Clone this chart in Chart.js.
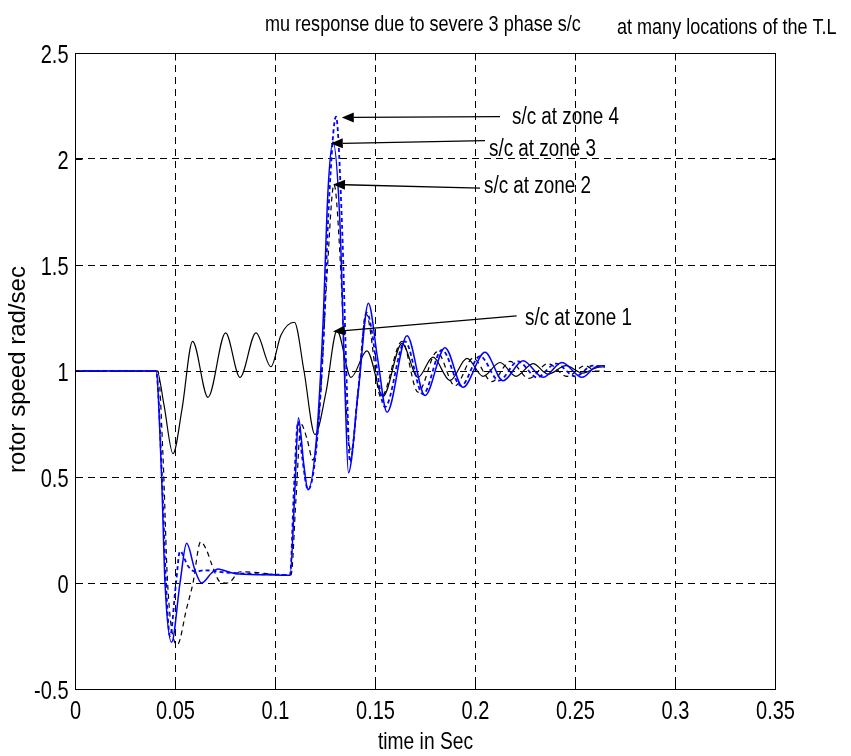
<!DOCTYPE html>
<html><head><meta charset="utf-8">
<script src="https://cdn.jsdelivr.net/npm/chart.js@4.4.1/dist/chart.umd.min.js"></script>
<style>html,body{margin:0;padding:0;background:#fff;}canvas{display:block;}</style>
</head><body>
<canvas id="c" width="851" height="756"></canvas>
<script>
const xTickLabels = ['0','0.05','0.1','0.15','0.2','0.25','0.3','0.35'];
const yTickLabels = ['-0.5','0','0.5','1','1.5','2','2.5'];
const titleLeft = 'mu response due to severe 3 phase s/c';
const titleRight = 'at many locations of the T.L';
const xTitle = 'time in Sec';
const yTitle = 'rotor speed rad/sec';

// zone 1 : black solid
const zone1T = [0, 0.041, 0.0445, 0.049, 0.0535, 0.0588, 0.0665, 0.0753, 0.0825, 0.0905, 0.098, 0.103, 0.1097, 0.1145, 0.12, 0.1255, 0.131, 0.138, 0.146, 0.154, 0.1635, 0.1715, 0.179, 0.1875, 0.196, 0.204, 0.2125, 0.2205, 0.229, 0.2365, 0.2455, 0.254, 0.2605, 0.265];
const zone1V = [1, 1, 0.84, 0.61, 0.82, 1.14, 0.876, 1.18, 0.97, 1.18, 1.02, 1.17, 1.23, 1.0, 0.70, 0.9, 1.19, 0.97, 1.095, 0.88, 1.13, 0.97, 1.065, 0.955, 1.06, 0.975, 1.04, 0.975, 1.035, 0.985, 1.025, 0.99, 1.015, 1.02];
// zone 2 : black dashed
const zone2T = [0, 0.0415, 0.0440, 0.0463, 0.0512, 0.0558, 0.059, 0.0628, 0.0658, 0.0683, 0.0725, 0.0765, 0.0825, 0.09, 0.1, 0.108, 0.1105, 0.113, 0.116, 0.119, 0.1225, 0.126, 0.1295, 0.133, 0.1355, 0.138, 0.1415, 0.1455, 0.153, 0.1635, 0.1715, 0.181, 0.19, 0.199, 0.2085, 0.2175, 0.227, 0.2365, 0.246, 0.255, 0.2605, 0.265];
const zone2V = [1, 1, 0.6, 0.0, -0.29, -0.12, 0.0, 0.194, 0.155, 0.09, 0.006, 0.0, 0.053, 0.05, 0.04, 0.038, 0.4, 0.75, 0.68, 0.58, 0.85, 1.45, 1.88, 1.45, 0.85, 0.62, 0.9, 1.27, 0.876, 1.14, 0.9, 1.09, 0.93, 1.06, 0.95, 1.045, 0.965, 1.035, 0.975, 1.025, 1.0, 1.0];
// zone 3 : blue solid
const zone3T = [0, 0.0405, 0.0433, 0.045, 0.0483, 0.0525, 0.0558, 0.06, 0.0633, 0.0683, 0.0715, 0.0765, 0.082, 0.1, 0.1075, 0.11, 0.1117, 0.1145, 0.1165, 0.1208, 0.124, 0.1265, 0.129, 0.1325, 0.135, 0.1367, 0.1417, 0.1467, 0.1513, 0.156, 0.166, 0.175, 0.185, 0.194, 0.205, 0.214, 0.224, 0.234, 0.2435, 0.2535, 0.2605, 0.265];
const zone3V = [1, 1, 0.5, 0.0, -0.28, 0.0, 0.187, 0.06, 0.0, 0.047, 0.066, 0.053, 0.042, 0.038, 0.036, 0.45, 0.78, 0.55, 0.44, 0.69, 1.22, 1.85, 2.08, 1.69, 0.91, 0.52, 0.91, 1.32, 1.06, 0.805, 1.166, 0.884, 1.11, 0.923, 1.088, 0.954, 1.048, 0.97, 1.04, 0.97, 1.02, 1.025];
// zone 4 : blue dashed
const zone4T = [0, 0.0405, 0.0435, 0.0455, 0.0475, 0.0505, 0.0525, 0.0565, 0.06, 0.065, 0.075, 0.09, 0.1, 0.1075, 0.1095, 0.1115, 0.1135, 0.1165, 0.1205, 0.124, 0.127, 0.1305, 0.1335, 0.136, 0.1375, 0.1415, 0.1458, 0.155, 0.165, 0.174, 0.1835, 0.193, 0.2025, 0.212, 0.2215, 0.231, 0.2405, 0.25, 0.259, 0.265];
const zone4V = [1, 1, 0.5, 0.0, -0.25, 0.0, 0.15, 0.08, 0.055, 0.06, 0.05, 0.042, 0.04, 0.038, 0.45, 0.76, 0.6, 0.44, 0.62, 1.1, 1.8, 2.2, 1.69, 0.9, 0.57, 0.9, 1.275, 0.83, 1.14, 0.89, 1.1, 0.93, 1.07, 0.955, 1.045, 0.97, 1.035, 0.975, 1.025, 1.02];

// arrow annotations (data coordinates)
const annoText = ['s/c at zone 4', 's/c at zone 3', 's/c at zone 2', 's/c at zone 1'];
const annoTipT = [0.1334, 0.1279, 0.129, 0.129];
const annoTipV = [2.196, 2.073, 1.88, 1.186];
const annoTailT = [0.2125, 0.205, 0.2025, 0.2208];
const annoTailV = [2.2, 2.087, 1.863, 1.26];
const annoLabelT = [0.2185, 0.207, 0.2045, 0.225];
const annoLabelV = [2.196, 2.045, 1.871, 1.246];

const FONT = '"Liberation Sans", Arial, sans-serif';
const pts = (T, V) => T.map((t, i) => ({x: t, y: V[i]}));

function narrowText(ctx, str, x, y, size, align, baseline, sx) {
  ctx.save();
  ctx.translate(x, y);
  ctx.scale(sx, 1);
  ctx.font = size + 'px ' + FONT;
  ctx.textAlign = align;
  ctx.textBaseline = baseline;
  ctx.fillStyle = '#000';
  ctx.fillText(str, 0, 0);
  ctx.restore();
}

const decor = {
  id: 'decor',
  afterDraw(chart) {
    const {ctx, chartArea: a, scales: {x, y}} = chart;
    ctx.save();
    ctx.setLineDash([]);
    ctx.strokeStyle = '#000';
    ctx.lineWidth = 1;
    const L = 7;
    const seg = (x1, y1, x2, y2) => { ctx.beginPath(); ctx.moveTo(x1, y1); ctx.lineTo(x2, y2); ctx.stroke(); };
    const l = Math.round(a.left) + 0.5, r = Math.round(a.right) + 0.5, t = Math.round(a.top) + 0.5, b = Math.round(a.bottom) + 0.5;
    ctx.strokeRect(l, t, r - l, b - t);
    x.ticks.forEach((tk, i) => {
      const px = Math.round(x.getPixelForValue(tk.value)) + 0.5;
      seg(px, b, px, b - L); seg(px, t, px, t + L);
      narrowText(ctx, xTickLabels[i], px, b + 29, 25, 'center', 'alphabetic', 0.8);
    });
    y.ticks.forEach((tk, i) => {
      const py = Math.round(y.getPixelForValue(tk.value)) + 0.5;
      seg(l, py, l + L, py); seg(r, py, r - L, py);
      narrowText(ctx, yTickLabels[i], l - 7, py + 9, 25, 'right', 'alphabetic', 0.8);
    });
    // axis titles
    narrowText(ctx, xTitle, (l + r) / 2, 749, 24, 'center', 'alphabetic', 0.8);
    ctx.save();
    ctx.translate(18, (t + b) / 2 - 2);
    ctx.rotate(-Math.PI / 2);
    ctx.font = '24px ' + FONT;
    ctx.textAlign = 'center';
    ctx.textBaseline = 'middle';
    ctx.fillStyle = '#000';
    ctx.fillText(yTitle, 0, 0);
    ctx.restore();
    // arrows
    ctx.fillStyle = '#000';
    ctx.lineWidth = 1.3;
    for (let i = 0; i < annoText.length; i++) {
      const x1 = x.getPixelForValue(annoTailT[i]), y1 = y.getPixelForValue(annoTailV[i]);
      const x2 = x.getPixelForValue(annoTipT[i]), y2 = y.getPixelForValue(annoTipV[i]);
      const ang = Math.atan2(y2 - y1, x2 - x1);
      const hl = 12, hw = 5;
      const bx = x2 - hl * Math.cos(ang), by = y2 - hl * Math.sin(ang);
      seg(x1, y1, bx, by);
      ctx.beginPath();
      ctx.moveTo(x2, y2);
      ctx.lineTo(bx + hw * Math.sin(ang), by - hw * Math.cos(ang));
      ctx.lineTo(bx - hw * Math.sin(ang), by + hw * Math.cos(ang));
      ctx.closePath();
      ctx.fill();
      narrowText(ctx, annoText[i], x.getPixelForValue(annoLabelT[i]), y.getPixelForValue(annoLabelV[i]), 23, 'left', 'middle', 0.82);
    }
    // titles
    narrowText(ctx, titleLeft, 265, 31, 22, 'left', 'alphabetic', 0.82);
    narrowText(ctx, titleRight, 617, 34, 22, 'left', 'alphabetic', 0.82);
    ctx.restore();
  }
};

new Chart(document.getElementById('c'), {
  type: 'line',
  data: {
    datasets: [
      {label: 's/c at zone 3', data: pts(zone3T, zone3V), borderColor: '#0000ff', borderWidth: 1.5, order: 1},
      {label: 's/c at zone 4', data: pts(zone4T, zone4V), borderColor: '#0000ff', borderWidth: 1.8, borderDash: [4, 3], order: 2},
      {label: 's/c at zone 2', data: pts(zone2T, zone2V), borderColor: '#000000', borderWidth: 1.2, borderDash: [5, 4], order: 3},
      {label: 's/c at zone 1', data: pts(zone1T, zone1V), borderColor: '#000000', borderWidth: 1.2, order: 4}
    ]
  },
  options: {
    responsive: false,
    animation: false,
    layout: {padding: {left: 0, right: 76, top: 53, bottom: 0}},
    plugins: {legend: {display: false}, tooltip: {enabled: false}, title: {display: false}},
    elements: {point: {radius: 0}, line: {cubicInterpolationMode: 'monotone', fill: false}},
    scales: {
      x: {
        type: 'linear', min: 0, max: 0.35,
        afterBuildTicks: s => { s.ticks = xTickLabels.map(v => ({value: parseFloat(v)})); },
        afterFit: s => { s.height = 67; },
        ticks: {display: false},
        grid: {color: '#000', lineWidth: 1, drawTicks: false},
        border: {display: true, color: '#000', width: 1, dash: [7, 5]},
        title: {display: false}
      },
      y: {
        type: 'linear', min: -0.5, max: 2.5,
        afterBuildTicks: s => { s.ticks = yTickLabels.map(v => ({value: parseFloat(v)})); },
        afterFit: s => { s.width = 75; },
        ticks: {display: false},
        grid: {color: '#000', lineWidth: 1, drawTicks: false},
        border: {display: true, color: '#000', width: 1, dash: [7, 5]},
        title: {display: false}
      }
    }
  },
  plugins: [decor]
});
</script>
</body></html>
